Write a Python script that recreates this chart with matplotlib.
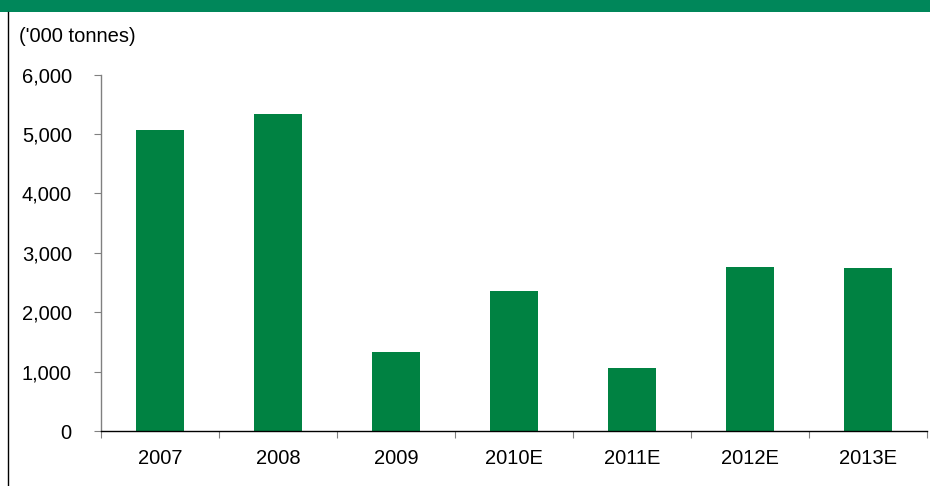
import numpy as np
import matplotlib
matplotlib.use("Agg")
import matplotlib.pyplot as plt
from matplotlib.patches import Rectangle
from matplotlib.lines import Line2D
from matplotlib.ticker import FuncFormatter

plt.rcParams["font.family"] = ["Liberation Sans", "DejaVu Sans"]

years = ["2007", "2008", "2009", "2010E", "2011E", "2012E", "2013E"]
volume = [5065, 5335, 1330, 2355, 1060, 2765, 2745]   # '000 tonnes

W, H = 930, 486
FS = 14.5
fig = plt.figure(figsize=(W / 100, H / 100), dpi=100)

# header strip and the left frame line
fig.add_artist(Rectangle((0, 1 - 12 / H), 1, 12 / H, transform=fig.transFigure,
                         facecolor="#00875A", edgecolor="none"))
fig.add_artist(Line2D([8 / W, 8 / W], [0, 1 - 12 / H], transform=fig.transFigure,
                      color="black", linewidth=1.0))

ax = fig.add_axes([101 / W, 1 - 431 / H, (927 - 101) / W, (431 - 74.7) / H])

x = np.arange(len(years))
ax.bar(x, volume, width=0.41, color="#008242")

ax.set_xlim(-0.5, len(years) - 0.5)
ax.set_ylim(0, 6000)
ax.set_yticks(np.arange(0, 6001, 1000))
ax.yaxis.set_major_formatter(FuncFormatter(lambda v, p: f"{v:,.0f}"))

# category labels at centres, ticks at the boundaries
ax.set_xticks(x)
ax.set_xticklabels(years)
ax.set_xticks(np.arange(-0.5, len(years)), minor=True)
ax.tick_params(axis="x", which="major", length=0, pad=13, labelsize=FS)
ax.tick_params(axis="x", which="minor", length=5, width=0.8, color="#808080")
ax.tick_params(axis="y", length=5, width=0.8, color="#808080", pad=16, labelsize=FS)

for s in ["top", "right"]:
    ax.spines[s].set_visible(False)
ax.spines["left"].set_color("#808080")
ax.spines["left"].set_linewidth(1.0)
ax.spines["bottom"].set_color("black")
ax.spines["bottom"].set_linewidth(1.0)

fig.text(19 / W, 1 - 36 / H, "('000 tonnes)", fontsize=FS, va="center", ha="left")

fig.savefig("out.png", dpi=100)
